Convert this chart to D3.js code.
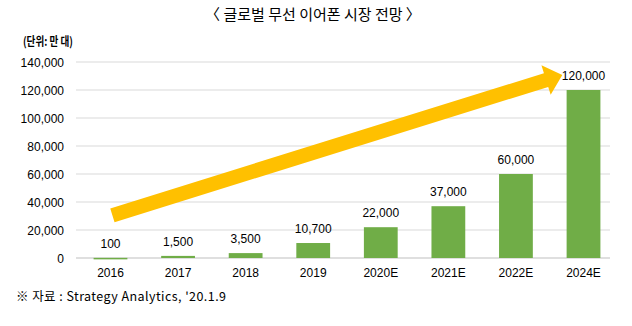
<!DOCTYPE html>
<html><head><meta charset="utf-8">
<script src="https://cdn.jsdelivr.net/npm/d3@7"></script>
<style>
body{margin:0;background:#fff;}
text{font-family:"Liberation Sans",Arial,"Noto Sans CJK KR",sans-serif;fill:#000;}
</style></head><body>
<svg id="c" width="632" height="326"></svg>
<script>
const categories = ["2016","2017","2018","2019","2020E","2021E","2022E","2024E"];
const values = [100,1500,3500,10700,22000,37000,60000,120000];
const valueLabels = ["100","1,500","3,500","10,700","22,000","37,000","60,000","120,000"];
const yTicks = [0,20000,40000,60000,80000,100000,120000,140000];
const title = "〈 글로벌 무선 이어폰 시장 전망 〉";
const unitLabel = "(단위: 만 대)";
const sourceText = "※ 자료 : Strategy Analytics, '20.1.9";

const svg = d3.select("#c");
const y = d3.scaleLinear().domain([0,140000]).range([258,62]);
const x = d3.scaleBand().domain(categories).range([76.7,617.3]).paddingInner(0.5).paddingOuter(0.25);
const gridX0 = 76, gridX1 = 610;

svg.append("text").attr("x",313).attr("y",20).attr("text-anchor","middle")
  .style("font-family","'Noto Sans CJK KR',sans-serif").style("font-size","15px").text(title);
svg.append("text").attr("x",23).attr("y",45.5)
  .attr("textLength",50).attr("lengthAdjust","spacingAndGlyphs")
  .style("font-family","'Noto Sans CJK KR',sans-serif").style("font-size","12px").style("font-weight","bold").text(unitLabel);

// gridlines
svg.append("g").selectAll("line").data(yTicks).join("line")
  .attr("x1",gridX0).attr("x2",gridX1).attr("y1",d=>y(d)).attr("y2",d=>y(d))
  .attr("stroke",d=>d===0?"#bfbfbf":"#d9d9d9").attr("stroke-width",1);

// y axis labels
const yAxis = d3.axisLeft(y).tickValues(yTicks).tickFormat(d3.format(",")).tickSize(0).tickPadding(0);
const ga = svg.append("g").attr("transform","translate(64,0)").call(yAxis);
ga.select(".domain").remove();
ga.selectAll("text").style("font-size","12px").attr("dy","0.35em").style("font-family","'Liberation Sans',Arial,sans-serif");

// bars
svg.append("g").selectAll("rect").data(values).join("rect")
  .attr("x",(d,i)=>x(categories[i])).attr("width",x.bandwidth())
  .attr("y",d=>y(d)).attr("height",d=>Math.max(1.5,y(0)-y(d)))
  .attr("fill","#70ad47");

// value labels
svg.append("g").selectAll("text").data(values).join("text")
  .attr("x",(d,i)=>x(categories[i])+x.bandwidth()/2).attr("y",d=>y(d)-10)
  .attr("text-anchor","middle").style("font-size","12px").text((d,i)=>valueLabels[i]);

// x axis
const xAxis = d3.axisBottom(x).tickSize(0).tickPadding(0);
const gx = svg.append("g").attr("transform","translate(0,277)").call(xAxis);
gx.select(".domain").remove();
gx.selectAll("text").attr("dy",0).style("font-size","12px").style("font-family","'Liberation Sans',Arial,sans-serif");

// arrow
const tail=[112.4,215.3], tip=[562.3,75];
const dx=tip[0]-tail[0], dy=tip[1]-tail[1], L=Math.hypot(dx,dy);
const ux=dx/L, uy=dy/L, px=-uy, py=ux;
const sw=7.2, hw=15.5, hl=17;
const bx=tip[0]-ux*hl, by=tip[1]-uy*hl;
const pts=[
 [tail[0]+px*sw, tail[1]+py*sw],
 [bx+px*sw, by+py*sw],
 [bx+px*hw, by+py*hw],
 tip,
 [bx-px*hw, by-py*hw],
 [bx-px*sw, by-py*sw],
 [tail[0]-px*sw, tail[1]-py*sw]
];
svg.append("path").attr("d",d3.line()(pts)+"Z").attr("fill","#ffc000");

svg.append("text").attr("x",16).attr("y",301)
  .attr("textLength",210).attr("lengthAdjust","spacing")
  .style("font-family","'Noto Sans CJK KR',sans-serif").style("font-size","12.5px").text(sourceText);
</script></body></html>
